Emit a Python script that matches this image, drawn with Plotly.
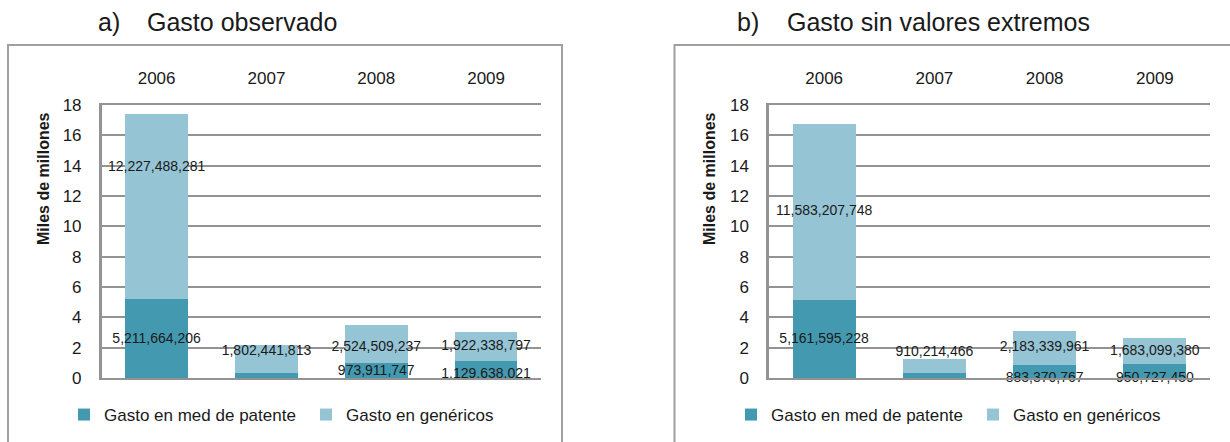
import plotly.graph_objects as go

# ---------------- data ----------------
years = ["2006", "2007", "2008", "2009"]

# a) Gasto observado (pesos)
obs_patente = [5211664206, 359481823, 973911747, 1129638021]
obs_genericos = [12227488281, 1802441813, 2524509237, 1922338797]

# b) Gasto sin valores extremos (pesos)
sve_patente = [5161595228, 317029155, 883370767, 950727450]
sve_genericos = [11583207748, 910214466, 2183339961, 1683099380]

# vertical placement of the value labels (miles de millones)
obs_pat_label_y = [2.57, -0.13, 0.46, 0.2]
obs_gen_label_y = [13.9, 1.78, 1.98, 2.1]
sve_pat_label_y = [2.57, -0.2, 0.0, 0.0]
sve_gen_label_y = [10.95, 1.65, 1.98, 1.78]

y_ticks = [0, 2, 4, 6, 8, 10, 12, 14, 16, 18]

# ---------------- style ----------------
W, H = 1230, 442
FONT = "Liberation Sans, Arial, sans-serif"
DARK = "#4399B0"
LIGHT = "#95C4D5"
GRID = "#939393"
TXT = "#1a1a1a"

def px_x(v):
    return v / W

def px_y(v):
    return (H - v) / H

def bil(vals):
    return [v / 1e9 for v in vals]

def fmt(vals):
    return [f"{v:,}" for v in vals]

fig = go.Figure()
panels = [
    ("x", "y", "legend", obs_patente, obs_genericos, obs_pat_label_y, obs_gen_label_y),
    ("x2", "y2", "legend2", sve_patente, sve_genericos, sve_pat_label_y, sve_gen_label_y),
]
for xa, ya, lg, pat, gen, pat_ly, gen_ly in panels:
    fig.add_trace(go.Bar(x=years, y=bil(pat), name="Gasto en med de patente",
                         marker=dict(color=DARK, line=dict(width=0)),
                         xaxis=xa, yaxis=ya, legend=lg))
    fig.add_trace(go.Bar(x=years, y=bil(gen), name="Gasto en genéricos",
                         marker=dict(color=LIGHT, line=dict(width=0)),
                         xaxis=xa, yaxis=ya, legend=lg))
    for ly, vals in ((gen_ly, gen), (pat_ly, pat)):
        fig.add_trace(go.Scatter(x=years, y=ly, text=fmt(vals), mode="text",
                                 textfont=dict(family=FONT, size=14, color=TXT),
                                 textposition="middle center", cliponaxis=False,
                                 showlegend=False, hoverinfo="skip",
                                 xaxis=xa, yaxis=ya))

ydom = [px_y(378), px_y(105)]
common_x = dict(type="category", side="top", showgrid=False, showline=True,
                mirror=True, linecolor=GRID, linewidth=2, ticks="",
                tickfont=dict(family=FONT, size=17, color=TXT),
                ticklabelstandoff=12, fixedrange=True, automargin=False)
common_y = dict(range=[0, 18], tickvals=y_ticks, showgrid=True, gridcolor=GRID,
                gridwidth=1.5, showline=True, linecolor=GRID, linewidth=2.5,
                zeroline=False, ticks="",
                tickfont=dict(family=FONT, size=17, color=TXT),
                ticklabelstandoff=14, fixedrange=True, automargin=False)
common_leg = dict(orientation="h", xref="container", yref="container",
                  xanchor="left", yanchor="middle",
                  font=dict(family=FONT, size=17, color=TXT),
                  entrywidth=197, entrywidthmode="pixels",
                  bgcolor="rgba(0,0,0,0)", traceorder="normal")

fig.update_layout(
    width=W, height=H, autosize=False,
    margin=dict(l=0, r=0, t=0, b=0, autoexpand=False),
    paper_bgcolor="white", plot_bgcolor="white",
    barmode="stack", bargap=0.43,
    font=dict(family=FONT, color=TXT),
    xaxis=dict(domain=[px_x(101.7), px_x(541)], anchor="y", **common_x),
    yaxis=dict(domain=ydom, anchor="x", **common_y),
    xaxis2=dict(domain=[px_x(769), px_x(1210)], anchor="y2", **common_x),
    yaxis2=dict(domain=ydom, anchor="x2", **common_y),
    legend=dict(x=px_x(64), y=px_y(415), **common_leg),
    legend2=dict(x=px_x(731), y=px_y(415), **common_leg),
)

# panel frames
fig.add_shape(type="rect", xref="paper", yref="paper",
              x0=px_x(8), x1=px_x(562), y0=px_y(460), y1=px_y(45),
              line=dict(color="#a0a0a0", width=2), fillcolor="rgba(0,0,0,0)", layer="below")
fig.add_shape(type="rect", xref="paper", yref="paper",
              x0=px_x(674.5), x1=px_x(1250), y0=px_y(460), y1=px_y(45),
              line=dict(color="#a0a0a0", width=2), fillcolor="rgba(0,0,0,0)", layer="below")

# panel titles
titles = [(96, "a)"), (145, "Gasto observado"), (735, "b)"), (785, "Gasto sin valores extremos")]
for xp, t in titles:
    fig.add_annotation(text=t, xref="paper", yref="paper", x=px_x(xp), y=px_y(22),
                       xanchor="left", yanchor="middle", showarrow=False,
                       font=dict(family=FONT, size=25, color=TXT))

# y axis titles
for xp in (43, 709):
    fig.add_annotation(text="<b>Miles de millones</b>", xref="paper", yref="paper",
                       x=px_x(xp), y=px_y(179), xanchor="center", yanchor="middle",
                       textangle=-90, showarrow=False,
                       font=dict(family=FONT, size=16, color=TXT))

fig.write_html("out.html", config={"displayModeBar": False},
               post_script="document.body.style.margin='0';document.body.style.overflow='hidden';")
